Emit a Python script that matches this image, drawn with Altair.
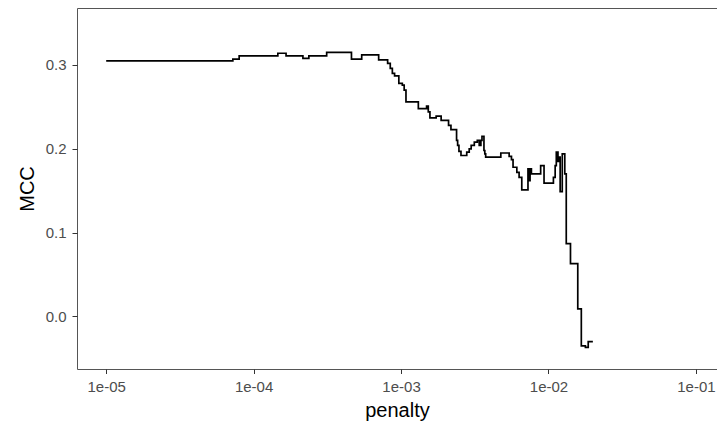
import altair as alt
import pandas as pd

penalty = [1.00e-05, 7.23e-05, 7.98e-05, 1.46e-04, 1.66e-04, 2.16e-04, 2.37e-04,
           3.13e-04, 4.61e-04, 5.41e-04, 7.05e-04, 8.11e-04, 8.45e-04, 8.73e-04,
           9.04e-04, 9.66e-04, 1.02e-03, 1.05e-03, 1.08e-03, 1.31e-03, 1.49e-03,
           1.53e-03, 1.57e-03, 1.73e-03, 1.87e-03, 2.10e-03, 2.18e-03, 2.38e-03,
           2.42e-03, 2.47e-03, 2.55e-03, 2.79e-03, 2.90e-03, 2.99e-03, 3.14e-03,
           3.29e-03, 3.39e-03, 3.48e-03, 3.54e-03, 3.65e-03, 3.70e-03, 3.75e-03,
           4.75e-03, 5.41e-03, 5.61e-03, 5.75e-03, 6.10e-03, 6.32e-03, 6.59e-03,
           7.26e-03, 7.37e-03, 7.50e-03, 7.66e-03, 8.85e-03, 9.33e-03, 1.08e-02,
           1.11e-02, 1.13e-02, 1.16e-02, 1.18e-02, 1.20e-02, 1.24e-02, 1.29e-02,
           1.32e-02, 1.41e-02, 1.58e-02, 1.67e-02, 1.78e-02, 1.86e-02, 2.00e-02]
mcc = [0.305, 0.307, 0.311, 0.314, 0.311, 0.308, 0.311,
       0.315, 0.307, 0.312, 0.306, 0.302, 0.296, 0.290,
       0.287, 0.278, 0.276, 0.270, 0.256, 0.248, 0.251,
       0.244, 0.237, 0.239, 0.234, 0.228, 0.223, 0.210,
       0.204, 0.197, 0.192, 0.196, 0.200, 0.204, 0.208,
       0.210, 0.204, 0.210, 0.215, 0.198, 0.194, 0.190,
       0.195, 0.191, 0.187, 0.178, 0.172, 0.166, 0.151,
       0.176, 0.162, 0.176, 0.170, 0.180, 0.159, 0.166,
       0.180, 0.196, 0.185, 0.190, 0.149, 0.194, 0.170,
       0.087, 0.063, 0.009, -0.035, -0.037, -0.030, -0.030]

x_ticks = [1e-05, 1e-04, 1e-03, 1e-02, 1e-01]
y_ticks = [0.0, 0.1, 0.2, 0.3]

df = pd.DataFrame({"penalty": penalty, "MCC": mcc})

FONT = "Liberation Sans"

chart = alt.Chart(df).mark_line(
    interpolate="step-after", color="black", strokeWidth=1.7
).encode(
    x=alt.X("penalty:Q",
            scale=alt.Scale(type="log", domain=[6.34e-06, 0.139], nice=False),
            axis=alt.Axis(values=x_ticks, title="penalty", grid=False,
                          labelExpr="'1e-0' + round(-log(datum.value)/LN10)",
                          labelFont=FONT, labelFontSize=15,
                          labelColor="#4D4D4D", labelPadding=6,
                          tickSize=4.5, tickColor="#333333", domain=False,
                          titleFont=FONT, titleFontSize=20,
                          titleFontWeight="normal", titleColor="black",
                          titlePadding=6)),
    y=alt.Y("MCC:Q",
            scale=alt.Scale(domain=[-0.0627, 0.368], nice=False, zero=False),
            axis=alt.Axis(values=y_ticks, format=".1f", title="MCC", grid=False,
                          labelFont=FONT, labelFontSize=15,
                          labelColor="#4D4D4D", labelPadding=6,
                          tickSize=5, tickColor="#333333", domain=False,
                          titleFont=FONT, titleFontSize=20,
                          titleFontWeight="normal", titleColor="black",
                          titlePadding=8)),
).properties(
    width=640, height=361,
    background="white",
    autosize=alt.AutoSizeParams(type="none"),
    padding={"left": 69, "top": 0, "right": 0, "bottom": 55},
).configure_view(
    stroke="#555555", strokeWidth=1
)

chart.save("out.html", embed_options={"renderer": "svg", "actions": False})
